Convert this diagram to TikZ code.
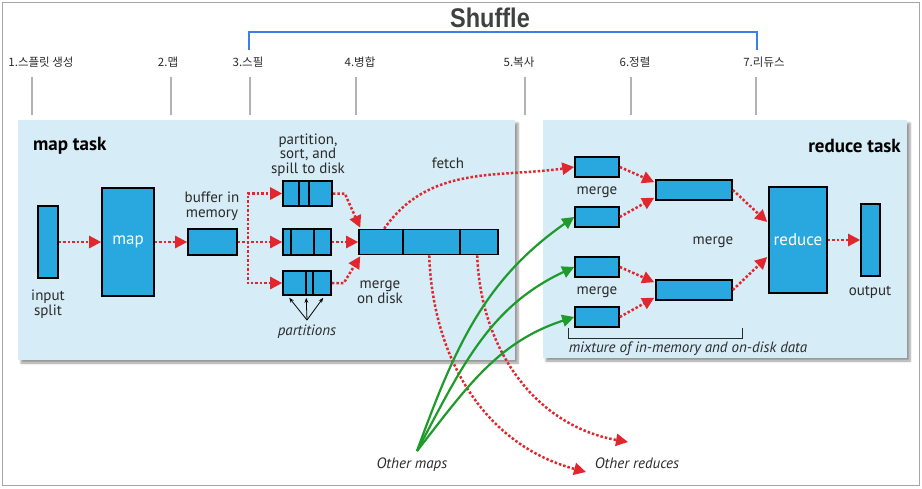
\documentclass[tikz,border=0pt]{standalone}
\usepackage{fontspec}
\setmainfont{PT Sans}
\newfontfamily\krfont{Noto Sans CJK KR}
\newfontfamily\shfont{Liberation Sans}
\usetikzlibrary{arrows.meta,calc,positioning,shadows.blur}
\definecolor{boxblue}{HTML}{29A8E0}
\definecolor{panelblue}{HTML}{D6ECF7}
\definecolor{dotred}{HTML}{E1262D}
\definecolor{arcgreen}{HTML}{1E9B2B}
\definecolor{shblue}{HTML}{3B7FEA}
\definecolor{txtgray}{HTML}{2A2A2A}
\tikzset{
  box/.style={draw=black,line width=1.6pt,fill=boxblue,inner sep=0pt,text=white,font=\fontsize{17}{17}\selectfont},
  panel/.style={fill=panelblue,inner sep=0pt,blur shadow={shadow xshift=3pt,shadow yshift=-3pt,shadow blur steps=6}},
  rdot/.style={dotred,line width=2.5pt,dash pattern=on 2.5pt off 2pt,-{Triangle[length=12pt,width=12pt]}},
  garc/.style={arcgreen,line width=2.2pt,-{Triangle[length=12pt,width=12pt]}},
  lbl/.style={text=txtgray,font=\fontsize{15}{14.5}\selectfont,align=center,inner sep=0pt},
  ital/.style={lbl,font=\fontsize{15}{14}\selectfont\itshape},
  ttl/.style={text=black,font=\fontsize{19}{19}\selectfont\bfseries,inner sep=0pt},
  kr/.style={text=txtgray,font=\krfont\fontsize{11.5}{12}\selectfont,inner sep=0pt},
}
\begin{document}
\begin{tikzpicture}[x=1pt,y=1pt]
  \useasboundingbox (0,0) rectangle (922,-488);
  \draw[gray!70,line width=1pt] (2,-2) rectangle (919,-485);

  \node[text=black!75,font=\shfont\fontsize{27}{27}\selectfont\bfseries,inner sep=0pt] (sh) at (490,-18) {\scalebox{0.87}[1]{Shuffle}};
  \draw[shblue,line width=2pt] (249,-50) |- (757,-32) -- (757,-50);

  \node[kr] (k1) at (41,-62) {1.스플릿 생성};
  \node[kr] (k2) at (168,-62) {2.맵};
  \node[kr] (k3) at (248,-62) {3.스필};
  \node[kr] (k4) at (360,-62) {4.병합};
  \node[kr] (k5) at (519,-62) {5.복사};
  \node[kr] (k6) at (635,-62) {6.정렬};
  \node[kr] (k7) at (764,-62) {7.리듀스};
  \foreach \x in {32,171,250,356,525,631,756}
    \draw[gray!60,line width=1.5pt] (\x,-77) -- (\x,-115);

  \node[panel,minimum width=497,minimum height=240] (mt) at (266.5,-240) {};
  \node[panel,minimum width=364,minimum height=238] (rt) at (725,-239) {};
  \node[ttl,anchor=west] (mtt) at (33,-146) {map task};
  \node[ttl,anchor=east] (rtt) at (901,-146) {reduce task};

  \node[box,minimum width=20,minimum height=72] (ins) at (48,-242) {};
  \node[box,minimum width=52,minimum height=108] (mp) at (128,-242) {map};
  \node[box,minimum width=49,minimum height=26] (buf) at (212.5,-242) {};
  \node[box,minimum width=49,minimum height=25] (s1) at (307.5,-193.5) {};
  \node[box,minimum width=48,minimum height=26] (s2) at (307,-242) {};
  \node[box,minimum width=48,minimum height=24] (s3) at (307,-283) {};
  \node[box,minimum width=139,minimum height=25] (mg) at (428.5,-242) {};
  \foreach \n/\d in {s1/17,s1/27,s2/9,s2/32,s3/24,s3/31,mg/45,mg/102}
    \draw[line width=1.6pt] ($(\n.north west)+(\d,0)$) -- ($(\n.south west)+(\d,0)$);

  \node[lbl] (inl) at (48,-304) {input\\split};
  \node[lbl] (bufl) at (212,-206) {buffer in\\memory};
  \node[lbl] (spl) at (308,-155) {partition,\\sort, and\\spill to disk};
  \node[lbl] (mgl) at (380,-292) {merge\\on disk};
  \node[lbl] (fl) at (448,-163) {fetch};
  \node[ital] (ptl) at (307,-332) {partitions};
  \coordinate (pp) at (307,-320);
  \foreach \d in {7,24,41}
    \draw[black,line width=0.8pt,-{Stealth[length=5pt]}] (pp) -- ($(s3.south west)+(\d,-2)$);

  \draw[rdot] (ins) -- (mp);
  \draw[rdot] (mp) -- (buf);
  \draw[rdot] (buf.east) -- ++(10,0) |- (s1.west);
  \draw[rdot] (buf.east) -- (s2.west);
  \draw[rdot] (buf.east) -- ++(10,0) |- (s3.west);
  \draw[rdot] (s1.east) -- ++(12,0) -- ($(mg.north west)+(2,1)$);
  \draw[rdot] (s2.east) -- (mg.west);
  \draw[rdot] (s3.east) -- ++(12,0) -- ($(mg.south west)+(2,-1)$);

  \node[box,minimum width=44,minimum height=20] (r1) at (597,-167) {};
  \node[box,minimum width=44,minimum height=20] (r2) at (597,-217) {};
  \node[box,minimum width=44,minimum height=20] (r3) at (597,-267) {};
  \node[box,minimum width=44,minimum height=20] (r4) at (597,-317) {};
  \node[box,minimum width=76,minimum height=20] (q1) at (694,-190) {};
  \node[box,minimum width=76,minimum height=20] (q2) at (694,-290) {};
  \node[box,minimum width=58,minimum height=106] (rd) at (798,-240) {reduce};
  \node[box,minimum width=19,minimum height=72] (out) at (870.5,-240) {};
  \node[lbl] (m1) at (597,-192) {merge};
  \node[lbl] (m2) at (597,-292) {merge};
  \node[lbl] (m3) at (713,-242) {merge};
  \node[lbl] (outl) at (870,-292) {output};
  \draw[txtgray,line width=1pt] (568,-328) -- (568,-338) -- (742,-338) -- (742,-328);
  \node[ital] (mx) at (688,-349) {mixture of in-memory and on-disk data};

  \draw[rdot] (r1.east) -- ($(q1.north west)+(-1,-3)$);
  \draw[rdot] (r2.east) -- ($(q1.south west)+(-1,3)$);
  \draw[rdot] (r3.east) -- ($(q2.north west)+(-1,-3)$);
  \draw[rdot] (r4.east) -- ($(q2.south west)+(-1,3)$);
  \draw[rdot] (q1.east) -- ($(rd.west)+(-1,18)$);
  \draw[rdot] (q2.east) -- ($(rd.west)+(-1,-17)$);
  \draw[rdot] (rd) -- (out);

  \draw[rdot] ($(mg.north west)+(26,0)$) to[out=55,in=188] (r1.west);

  \node[ital] (orl) at (637,-463) {Other reduces};
  \node[ital] (oml) at (412,-465) {Other maps};
  \coordinate (ora) at (586,-472);
  \coordinate (orb) at (628,-442);
  \draw[rdot] ($(mg.south west)+(71,0)$) to[out=-88,in=165] (ora);
  \draw[rdot] ($(mg.south west)+(119,0)$) to[out=-88,in=170] (orb);

  \coordinate (om) at (417,-451);
  \draw[garc] (om) to[out=70,in=215] (r2.west);
  \draw[garc] (om) to[out=62,in=205] (r3.west);
  \draw[garc] (om) to[out=52,in=198] (r4.west);
\end{tikzpicture}
\end{document}
